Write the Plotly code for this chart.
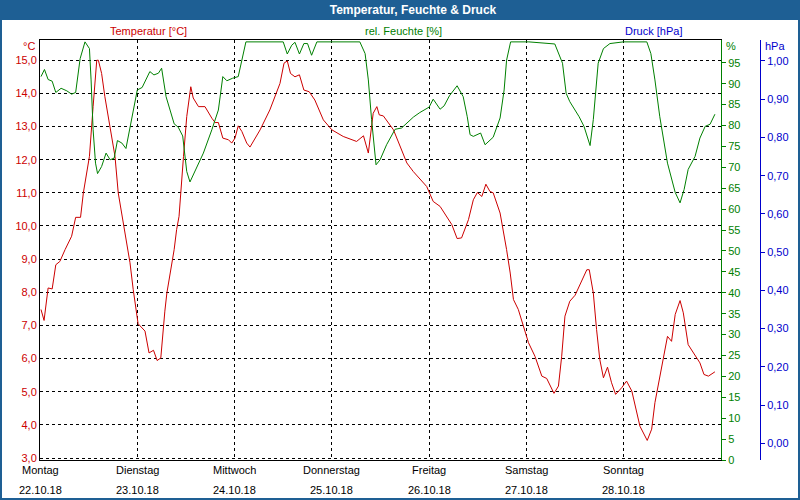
import pandas as pd
import plotly.graph_objects as go

# ---------------- data ----------------
start = "2018-10-22 00:00"
day_names = ["Montag", "Dienstag", "Mittwoch", "Donnerstag", "Freitag", "Samstag", "Sonntag"]
day_dates = ["22.10.18", "23.10.18", "24.10.18", "25.10.18", "26.10.18", "27.10.18", "28.10.18"]

# hours since start -> temperature [°C]
temp_hours = [0.25, 1.0, 2.0, 3.0, 3.9, 4.9, 6.2, 7.8, 8.8, 10.0, 10.7, 12.2, 13.1, 14.0, 14.4, 15.2,
              16.0, 17.3, 18.5, 19.3, 20.5, 21.6, 22.2, 23.0, 23.9, 24.2, 25.9, 26.9, 28.0, 28.9, 29.8,
              30.4, 30.8, 31.3, 32.1, 32.7, 33.1, 33.7, 34.3, 35.4, 36.2, 37.2, 37.8, 39.1, 40.7, 42.4,
              43.2, 44.0, 45.1, 46.5, 47.3, 48.1, 48.9, 49.8, 51.0, 51.8, 54.3, 56.7, 59.2, 60.2, 61.0,
              61.8, 62.9, 64.0, 65.1, 66.4, 67.8, 69.9, 72.0, 74.8, 78.1, 79.8, 81.0, 82.2, 83.1, 83.7,
              84.7, 87.2, 88.8, 90.5, 92.1, 94.2, 95.4, 97.0, 98.7, 101.6, 102.9, 104.0, 105.7, 106.9,
              107.9, 109.0, 110.0, 111.0, 111.8, 113.5, 114.3, 115.1, 116.0, 116.8, 118.0, 119.2, 120.5,
              122.1, 123.8, 125.0, 126.8, 127.9, 128.7, 129.5, 130.7, 132.0, 133.6, 134.9, 135.5, 136.5,
              137.3, 138.1, 139.0, 140.0, 141.0, 142.0, 143.5, 144.7, 146.0, 147.0, 148.0, 149.8, 150.9,
              151.7, 152.9, 153.8, 154.8, 155.8, 156.7, 157.9, 158.7, 159.9, 161.6, 162.8, 163.8, 164.9,
              166.5]
temp_values = [7.48, 7.15, 8.13, 8.10, 8.83, 8.93, 9.29, 9.69, 10.26, 10.26, 11.0, 12.1, 13.6, 15.0, 15.0,
               14.6, 13.9, 13.0, 12.1, 11.0, 10.09, 9.29, 8.89, 8.08, 7.28, 7.05, 6.83, 6.17, 6.25, 5.94,
               6.02, 6.98, 7.43, 7.98, 8.58, 8.98, 9.29, 9.89, 10.29, 12.1, 13.3, 14.2, 13.86, 13.6, 13.6,
               13.25, 13.12, 13.12, 12.65, 12.6, 12.5, 12.65, 13.02, 12.85, 12.5, 12.38, 12.9, 13.5, 14.3,
               14.91, 14.98, 14.6, 14.5, 14.56, 14.1, 14.05, 13.8, 13.2, 12.9, 12.7, 12.55, 12.72, 12.2,
               13.4, 13.6, 13.35, 13.32, 12.9, 12.4, 11.9, 11.64, 11.34, 11.19, 10.74, 10.59, 10.04, 9.62,
               9.64, 10.19, 10.79, 11.01, 10.89, 11.26, 11.04, 11.0, 10.39, 9.89, 9.29, 8.58, 7.78, 7.48,
               6.98, 6.48, 6.07, 5.47, 5.40, 4.95, 5.17, 6.07, 7.28, 7.73, 7.91, 8.33, 8.68, 8.68, 7.98,
               6.88, 5.97, 5.42, 5.74, 5.27, 4.92, 5.12, 5.32, 5.02, 4.52, 3.96, 3.53, 3.87, 4.67, 5.47,
               5.97, 6.67, 6.52, 7.33, 7.75, 7.38, 6.42, 6.12, 5.87, 5.52, 5.47, 5.60]

# hours since start -> relative humidity [%]
hum_hours = [0.25, 1.1, 2.0, 3.0, 3.9, 5.2, 6.6, 7.8, 8.8, 9.9, 11.1, 12.2, 12.6, 13.1, 13.7, 14.2, 15.2,
             16.3, 17.3, 18.3, 19.1, 20.2, 21.2, 22.6, 24.0, 25.2, 27.1, 28.1, 29.2, 30.0, 31.1, 33.1,
             34.1, 35.2, 36.2, 37.0, 38.7, 40.3, 42.4, 44.0, 45.1, 46.1, 47.5, 48.9, 50.8, 60.0, 61.0,
             62.1, 62.9, 64.0, 65.1, 66.0, 67.0, 68.3, 78.9, 80.2, 81.0, 81.8, 82.9, 83.7, 83.9, 85.5,
             87.6, 89.2, 92.1, 93.7, 96.0, 97.0, 98.7, 99.7, 101.0, 102.9, 104.4, 105.4, 106.1, 106.9,
             108.7, 109.8, 111.8, 113.5, 114.5, 115.1, 116.1, 120.6, 123.3, 127.0, 128.9, 129.8, 130.7,
             133.0, 134.2, 135.7, 136.5, 137.7, 139.0, 140.6, 143.9, 149.7, 150.7, 151.7, 152.9, 154.8,
             156.7, 157.9, 158.9, 159.9, 161.6, 162.8, 164.1, 165.3, 166.5]
hum_values = [91.7, 93.4, 91.0, 90.6, 87.9, 88.9, 88.3, 87.5, 87.9, 96.0, 100, 98.4, 90.9, 79.0, 71.0,
              68.5, 70.2, 73.4, 71.8, 72.2, 76.4, 75.8, 74.5, 81.4, 88.5, 89.1, 92.9, 92.1, 92.5, 93.7,
              86.9, 80.4, 79.6, 77.5, 69.0, 66.5, 70.2, 73.4, 79.0, 83.7, 91.7, 90.7, 91.3, 91.7, 100,
              100, 97.1, 99.2, 99.9, 97.1, 99.6, 99.6, 96.8, 100, 100, 97.2, 90.9, 81.4, 70.6, 71.4, 71.8,
              75.4, 79.1, 79.4, 82.0, 83.1, 84.4, 86.3, 83.9, 84.7, 87.1, 89.5, 86.9, 82.1, 77.8, 77.4,
              78.2, 75.4, 77.2, 81.8, 88.5, 95.6, 100, 100, 99.8, 99.5, 94.9, 87.7, 85.7, 82.1, 79.8,
              75.2, 81.4, 94.9, 98.4, 99.6, 100, 100, 97.2, 90.9, 82.1, 71.0, 64.0, 61.5, 64.7, 69.5,
              72.6, 77.0, 79.8, 80.3, 82.7]

# pressure [hPa] - no values recorded in this period
press_hours = []
press_values = []

temp_ticks = list(range(3, 16))
hum_ticks = list(range(0, 100, 5))
press_ticks = [0.0, 0.1, 0.2, 0.3, 0.4, 0.5, 0.6, 0.7, 0.8, 0.9, 1.0]

# ---------------- build ----------------
t0 = pd.Timestamp(start)
temp_x = [t0 + pd.Timedelta(hours=h) for h in temp_hours]
hum_x = [t0 + pd.Timedelta(hours=h) for h in hum_hours]
press_x = [t0 + pd.Timedelta(hours=h) for h in press_hours]
day_x = [t0 + pd.Timedelta(days=i) for i in range(len(day_names))]
x_end = t0 + pd.Timedelta(days=7)

RED = "#cc0000"
GREEN = "#008000"
BLUE = "#0000cc"
BAR = "#1e5f94"
FONT = "Liberation Sans"

# pixel geometry helpers (figure 800x500, plot area 40..770 x 40..460)
L, R, T, B = 40, 30, 40, 40
PW = 800 - L - R
PH = 500 - T - B
def px(x):
    return (x - L) / PW
def py(y):
    return (500 - B - y) / PH

fig = go.Figure()
fig.add_trace(go.Scatter(x=hum_x, y=hum_values, mode="lines", yaxis="y2",
                         line=dict(color=GREEN, width=1), name="rel. Feuchte"))
fig.add_trace(go.Scatter(x=temp_x, y=temp_values, mode="lines", yaxis="y",
                         line=dict(color=RED, width=1), name="Temperatur"))
fig.add_trace(go.Scatter(x=press_x, y=press_values, mode="lines", yaxis="y3",
                         line=dict(color=BLUE, width=1), name="Druck"))

annotations = []
for dx, dn, dd in zip(day_x, day_names, day_dates):
    annotations.append(dict(x=dx, y=0, xref="x", yref="paper", text=dn, showarrow=False,
                            yanchor="middle", yshift=-10, font=dict(size=11, color="black", family=FONT)))
    annotations.append(dict(x=dx, y=0, xref="x", yref="paper", text=dd, showarrow=False,
                            yanchor="middle", yshift=-30, font=dict(size=11, color="black", family=FONT)))

annotations += [
    dict(x=px(148), y=py(31), xref="paper", yref="paper", text="Temperatur [°C]", showarrow=False,
         xanchor="center", yanchor="middle", font=dict(size=11, color=RED, family=FONT)),
    dict(x=px(403), y=py(31), xref="paper", yref="paper", text="rel. Feuchte [%]", showarrow=False,
         xanchor="center", yanchor="middle", font=dict(size=11, color=GREEN, family=FONT)),
    dict(x=px(653), y=py(31), xref="paper", yref="paper", text="Druck [hPa]", showarrow=False,
         xanchor="center", yanchor="middle", font=dict(size=11, color=BLUE, family=FONT)),
    dict(x=px(37), y=py(46), xref="paper", yref="paper", text="°C", showarrow=False,
         xanchor="right", yanchor="middle", font=dict(size=11, color=RED, family=FONT)),
    dict(x=px(724), y=py(46), xref="paper", yref="paper", text="%", showarrow=False,
         xanchor="left", yanchor="middle", font=dict(size=11, color=GREEN, family=FONT)),
    dict(x=px(763), y=py(46), xref="paper", yref="paper", text="hPa", showarrow=False,
         xanchor="left", yanchor="middle", font=dict(size=11, color=BLUE, family=FONT)),
]

shapes = [
    dict(type="rect", xref="paper", yref="paper", x0=px(0), x1=px(800), y0=py(20), y1=py(0),
         fillcolor=BAR, line=dict(width=0), layer="below"),
    dict(type="rect", xref="paper", yref="paper", x0=px(0), x1=px(800), y0=py(500), y1=py(0),
         fillcolor="rgba(0,0,0,0)", line=dict(color=BAR, width=4), layer="above"),
]

fig.update_layout(
    width=800, height=500,
    margin=dict(l=L, r=R, t=T, b=B),
    paper_bgcolor="white", plot_bgcolor="white",
    separators=",.",
    showlegend=False,
    font=dict(family=FONT, size=11),
    title=dict(text="<b>Temperatur, Feuchte &amp; Druck</b>", x=413 / 800, y=1 - 10 / 500,
               xref="container", yref="container", xanchor="center", yanchor="middle",
               font=dict(color="white", size=12, family=FONT)),
    xaxis=dict(type="date", range=[t0, x_end], domain=[0, px(721)],
               tickmode="array", tickvals=day_x, showticklabels=False, ticks="",
               showgrid=True, gridcolor="black", gridwidth=1, griddash="3px,3px",
               showline=True, linecolor="black", linewidth=1, mirror=True, zeroline=False),
    yaxis=dict(range=[2.94, 15.61], tickmode="array", tickvals=temp_ticks, tickformat=".1f",
               tickfont=dict(color=RED, size=11, family=FONT), ticks="",
               showgrid=True, gridcolor="black", gridwidth=1, griddash="3px,3px",
               showline=True, linecolor="black", linewidth=1, zeroline=False),
    yaxis2=dict(range=[0, 100.45], overlaying="y", side="right", anchor="x",
                tickmode="array", tickvals=hum_ticks,
                tickfont=dict(color=GREEN, size=11, family=FONT),
                ticks="outside", ticklen=4, tickcolor=GREEN,
                showgrid=False, showline=True, linecolor=GREEN, linewidth=1, zeroline=False),
    yaxis3=dict(range=[-0.0437, 1.0549], overlaying="y", side="right", anchor="free",
                position=px(760), tickmode="array", tickvals=press_ticks, tickformat=".2f",
                tickfont=dict(color=BLUE, size=11, family=FONT),
                ticks="outside", ticklen=4, tickcolor=BLUE,
                showgrid=False, showline=True, linecolor=BLUE, linewidth=1, zeroline=False),
    annotations=annotations,
    shapes=shapes,
)

fig.write_html("out.html", config={"displayModeBar": False, "staticPlot": True},
               post_script="document.body.style.margin='0';document.body.style.overflow='hidden';")
